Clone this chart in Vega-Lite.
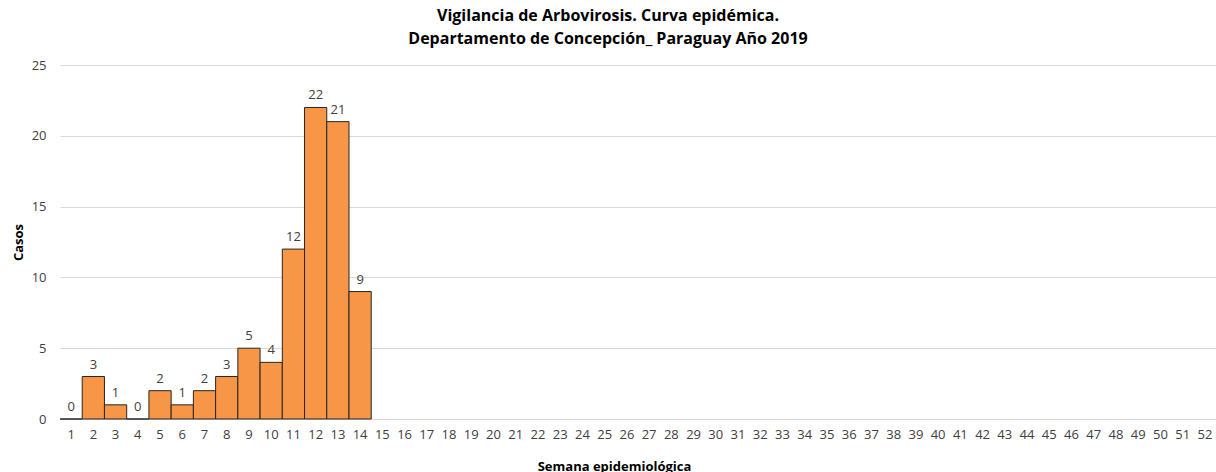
{
  "$schema": "https://vega.github.io/schema/vega-lite/v6.json",
  "width": 1156,
  "height": 354,
  "autosize": {"type": "none"},
  "padding": {"left": 60, "top": 65, "right": 0, "bottom": 53},
  "background": "white",
  "title": {
    "text": ["Vigilancia de Arbovirosis. Curva epidémica.", "Departamento de Concepción_ Paraguay Año 2019"],
    "anchor": "middle",
    "dx": -30,
    "offset": 12,
    "font": "Open Sans",
    "fontSize": 16,
    "fontWeight": "bold",
    "color": "#000000",
    "lineHeight": 23
  },
  "config": {
    "view": {"stroke": null},
    "font": "Open Sans"
  },
  "data": {
    "values": [
      {"semana": 1, "casos": 0},
      {"semana": 2, "casos": 3},
      {"semana": 3, "casos": 1},
      {"semana": 4, "casos": 0},
      {"semana": 5, "casos": 2},
      {"semana": 6, "casos": 1},
      {"semana": 7, "casos": 2},
      {"semana": 8, "casos": 3},
      {"semana": 9, "casos": 5},
      {"semana": 10, "casos": 4},
      {"semana": 11, "casos": 12},
      {"semana": 12, "casos": 22},
      {"semana": 13, "casos": 21},
      {"semana": 14, "casos": 9}
    ]
  },
  "encoding": {
    "x": {
      "field": "semana",
      "type": "ordinal",
      "scale": {
        "domain": [1,2,3,4,5,6,7,8,9,10,11,12,13,14,15,16,17,18,19,20,21,22,23,24,25,26,27,28,29,30,31,32,33,34,35,36,37,38,39,40,41,42,43,44,45,46,47,48,49,50,51,52],
        "paddingInner": 0,
        "paddingOuter": 0
      },
      "axis": {
        "title": "Semana epidemiológica",
        "titleFont": "Open Sans",
        "titleFontSize": 13,
        "titleFontWeight": "bold",
        "titleColor": "#000000",
        "titlePadding": 19,
        "titleX": 554,
        "labelAngle": 0,
        "labelFont": "Open Sans",
        "labelFontSize": 13,
        "labelColor": "#404040",
        "labelPadding": 9,
        "ticks": false,
        "domain": false,
        "grid": false
      }
    },
    "y": {
      "field": "casos",
      "type": "quantitative",
      "scale": {"domain": [0, 25]},
      "axis": {
        "title": "Casos",
        "titleFont": "Open Sans",
        "titleFontSize": 13,
        "titleFontWeight": "bold",
        "titleColor": "#000000",
        "titlePadding": 6,
        "values": [0, 5, 10, 15, 20, 25],
        "labelFont": "Open Sans",
        "labelFontSize": 13,
        "labelColor": "#404040",
        "labelPadding": 14,
        "ticks": false,
        "domain": false,
        "grid": true,
        "gridColor": "#d9d9d9",
        "gridWidth": 1
      }
    }
  },
  "layer": [
    {
      "mark": {"type": "bar", "fill": "#F79646", "stroke": "#262626", "strokeWidth": 1},
      "encoding": {}
    },
    {
      "mark": {"type": "text", "baseline": "bottom", "dy": -5, "font": "Open Sans", "fontSize": 13, "fill": "#404040"},
      "encoding": {"text": {"field": "casos", "type": "quantitative"}}
    }
  ]
}
